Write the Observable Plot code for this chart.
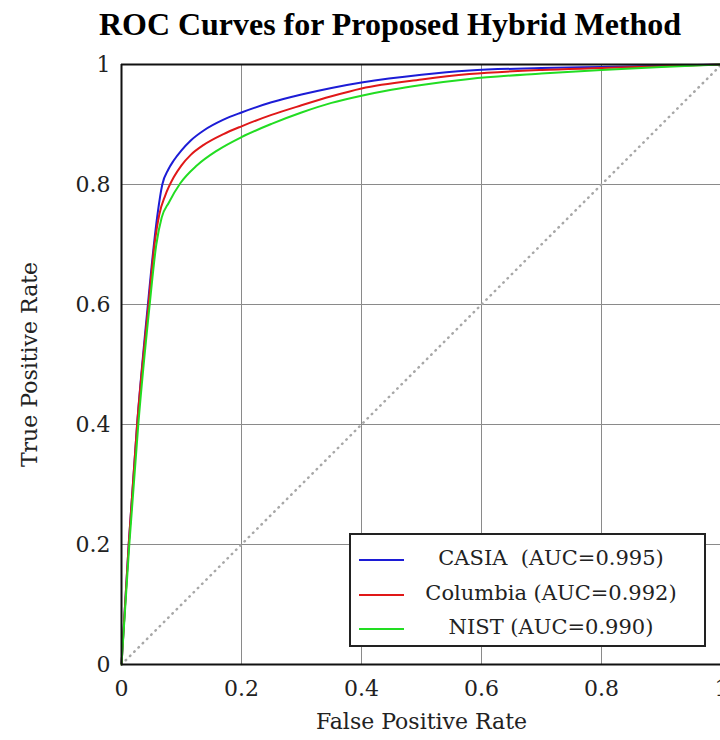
<!DOCTYPE html>
<html>
<head>
<meta charset="utf-8">
<script src="https://cdn.jsdelivr.net/npm/d3@7"></script>
<script src="https://cdn.jsdelivr.net/npm/@observablehq/plot@0.6"></script>
<style>
  html, body { margin: 0; padding: 0; background: #fff; }
  #wrap { position: relative; width: 720px; height: 740px; overflow: hidden; }
  #title { position: absolute; left: 0; top: 0; }
  #legend { position: absolute; left: 349px; top: 533px; width: 353px; height: 110px;
    border: 2px solid #222; background: #fff; font-family: "DejaVu Serif", serif; font-size: 21px; color: #222; }
  .row { position: absolute; left: 0; width: 353px; height: 30px; }
  .sw { position: absolute; left: 8px; top: 14px; width: 45px; height: 0; border-top: 2px solid; }
  .lab { position: absolute; left: 52px; width: 296px; text-align: center; top: 1px; white-space: pre; }
</style>
</head>
<body>
<div id="wrap"></div>
<script>
// ---- data ----
const seriesNames = ["CASIA", "Columbia", "NIST"];
const legendLabels = ["CASIA  (AUC=0.995)", "Columbia (AUC=0.992)", "NIST (AUC=0.990)"];
const seriesColors = ["#1c1cd6", "#e01818", "#22dd22"];

const fprCasia = [0, 0.012, 0.026, 0.044, 0.054, 0.060, 0.068, 0.078, 0.087, 0.100, 0.115, 0.137, 0.170, 0.200, 0.250, 0.300, 0.350, 0.400, 0.500, 0.580, 0.700, 0.800, 0.900, 1.000];
const tprCasia = [0, 0.200, 0.400, 0.600, 0.700, 0.750, 0.800, 0.825, 0.840, 0.857, 0.873, 0.890, 0.908, 0.920, 0.937, 0.950, 0.961, 0.970, 0.983, 0.990, 0.994, 0.996, 0.998, 1.000];

const fprColumbia = [0, 0.012, 0.026, 0.045, 0.055, 0.063, 0.073, 0.087, 0.100, 0.115, 0.137, 0.170, 0.200, 0.250, 0.300, 0.350, 0.400, 0.500, 0.580, 0.700, 0.800, 0.900, 1.000];
const tprColumbia = [0, 0.200, 0.400, 0.600, 0.700, 0.750, 0.782, 0.812, 0.832, 0.849, 0.866, 0.884, 0.897, 0.916, 0.932, 0.947, 0.960, 0.975, 0.984, 0.991, 0.994, 0.997, 1.000];

const fprNist = [0, 0.013, 0.028, 0.047, 0.058, 0.067, 0.079, 0.098, 0.126, 0.160, 0.200, 0.250, 0.300, 0.350, 0.400, 0.450, 0.500, 0.580, 0.700, 0.800, 0.900, 1.000];
const tprNist = [0, 0.200, 0.400, 0.600, 0.700, 0.745, 0.770, 0.802, 0.832, 0.857, 0.879, 0.901, 0.920, 0.936, 0.948, 0.958, 0.966, 0.976, 0.985, 0.991, 0.996, 1.000];

const diagX = [0, 1];
const diagY = [0, 1];

const tickValues = [0, 0.2, 0.4, 0.6, 0.8, 1];
const tickLabels = ["0", "0.2", "0.4", "0.6", "0.8", "1"];

const titleText = "ROC Curves for Proposed Hybrid Method";
const xLabel = "False Positive Rate";
const yLabel = "True Positive Rate";

// ---- build table ----
const fprs = [fprCasia, fprColumbia, fprNist];
const tprs = [tprCasia, tprColumbia, tprNist];
const rows = [];
seriesNames.forEach((s, i) => fprs[i].forEach((f, j) => rows.push({series: s, fpr: f, tpr: tprs[i][j]})));
const diag = diagX.map((x, i) => ({x, y: diagY[i]}));
const fmt = d => tickLabels[tickValues.indexOf(d)];

const chart = Plot.plot({
  width: 720,
  height: 740,
  marginTop: 64,
  marginLeft: 121,
  marginRight: -1,
  marginBottom: 76,
  style: {fontFamily: "'DejaVu Serif', serif", background: "white", color: "#222"},
  x: {domain: [0, 1]},
  y: {domain: [0, 1]},
  color: {domain: seriesNames, range: seriesColors},
  marks: [
    Plot.gridX(tickValues, {stroke: "#8a8a8a", strokeOpacity: 1, strokeWidth: 1}),
    Plot.gridY(tickValues, {stroke: "#8a8a8a", strokeOpacity: 1, strokeWidth: 1}),
    Plot.line(diag, {x: "x", y: "y", stroke: "#a8a8a8", strokeWidth: 2.5, strokeDasharray: "0.5,5.5", strokeLinecap: "round"}),
    Plot.line(rows, {x: "fpr", y: "tpr", z: "series", stroke: "series", strokeWidth: 2, curve: "monotone-x"}),
    Plot.ruleX([0], {stroke: "#111", strokeWidth: 2}),
    Plot.ruleY([0, 1], {stroke: "#111", strokeWidth: 2}),
    Plot.axisX(tickValues, {tickSize: 0, tickPadding: 16, tickFormat: fmt, fontSize: 22,
      label: xLabel, labelAnchor: "center", labelArrow: "none", labelOffset: 64}),
    Plot.axisY(tickValues, {tickSize: 0, tickPadding: 11, tickFormat: fmt, fontSize: 22,
      label: yLabel, labelAnchor: "center", labelArrow: "none", labelOffset: 100})
  ]
});
const wrap = document.getElementById("wrap");
wrap.appendChild(chart);

d3.select(chart).selectAll("g[aria-label='x-axis label'] text, g[aria-label='y-axis label'] text")
  .style("font-size", "22px");

// title
const tsvg = d3.select(wrap).append("svg").attr("id", "title").attr("width", 720).attr("height", 50);
tsvg.append("text").attr("x", 390).attr("y", 35).attr("text-anchor", "middle")
  .attr("font-family", "'Liberation Serif', 'Times New Roman', serif").attr("font-weight", "bold")
  .attr("font-size", 32).attr("textLength", 582).attr("lengthAdjust", "spacingAndGlyphs")
  .attr("fill", "#000").text(titleText);

// legend
const leg = d3.select(wrap).append("div").attr("id", "legend");
legendLabels.forEach((l, i) => {
  const r = leg.append("div").attr("class", "row").style("top", (10 + i * 34.5) + "px");
  r.append("div").attr("class", "sw").style("border-color", seriesColors[i]);
  r.append("div").attr("class", "lab").text(l);
});
</script>
</body>
</html>
